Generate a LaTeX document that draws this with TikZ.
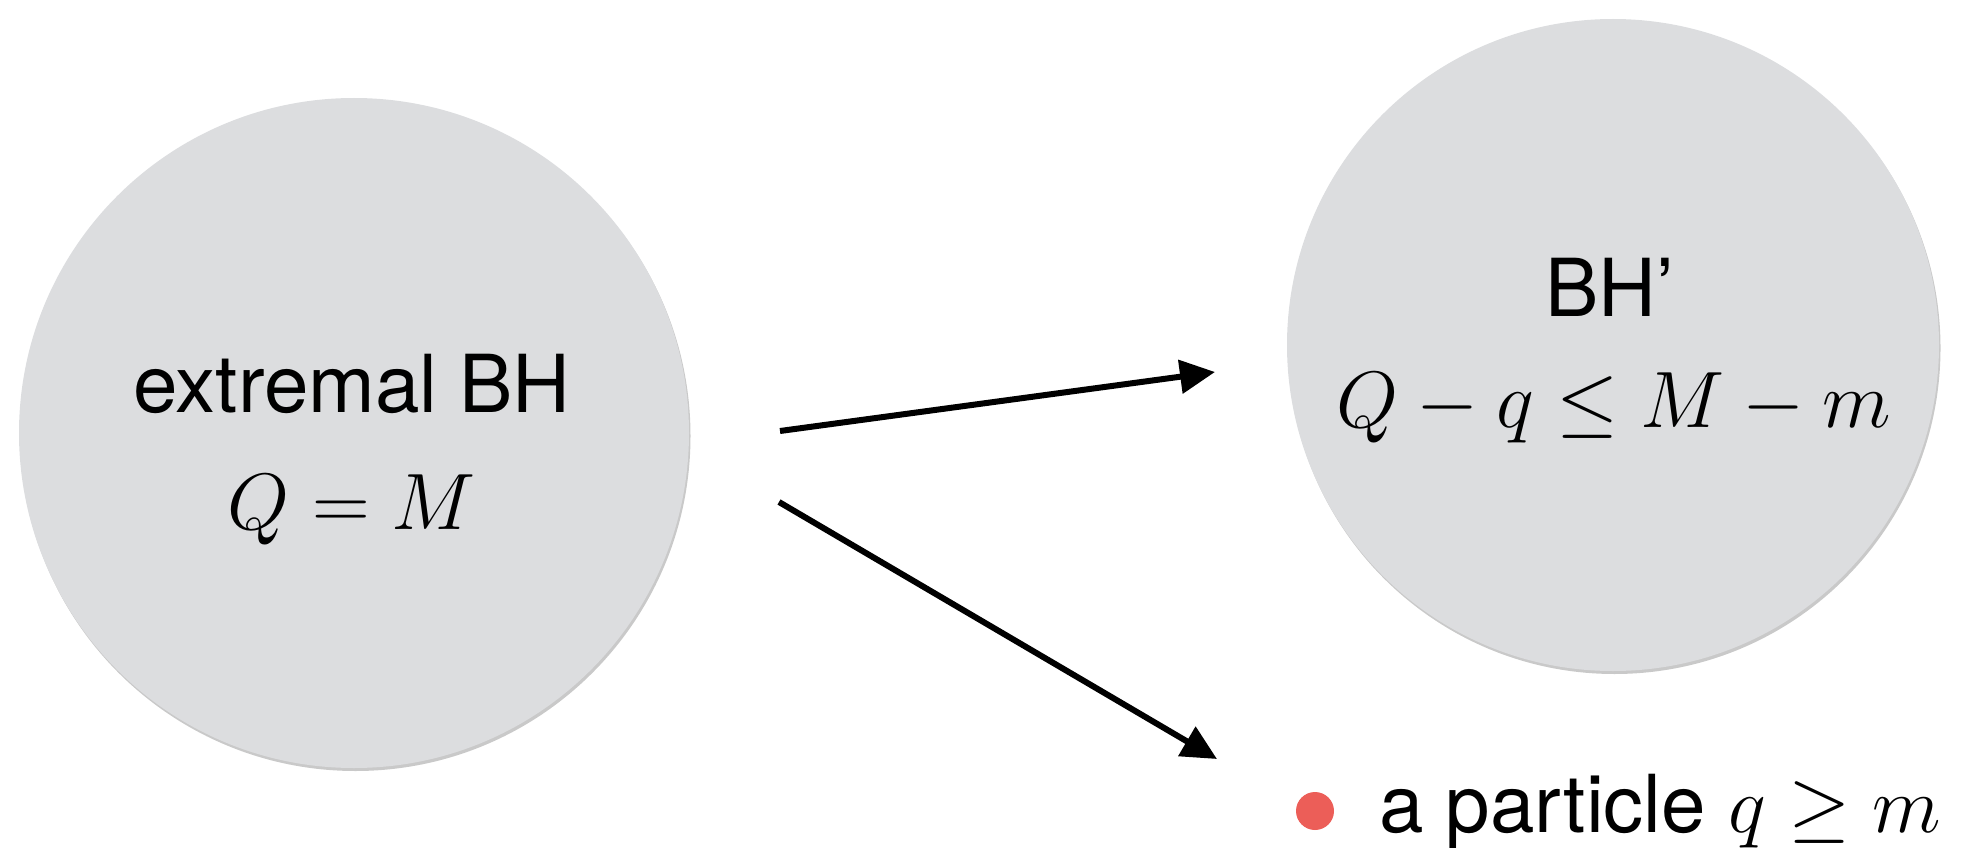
\RequirePackage{fix-cm}
\documentclass[tikz,border=0pt]{standalone}
\usepackage[no-math]{fontspec}
\setmainfont{TeX Gyre Heros}
\usetikzlibrary{arrows.meta,shadows}
\definecolor{bhfill}{RGB}{220,221,223}
\definecolor{dotred}{RGB}{236,94,88}
\tikzset{
  bh/.style={circle, fill=bhfill, draw=none, inner sep=0pt,
    drop shadow={shadow xshift=1.5pt, shadow yshift=-3pt, opacity=0.3, fill=black!70}},
  lbl/.style={anchor=base, inner sep=0pt, font=\fontsize{80}{96}\selectfont},
  arr/.style={line width=6pt, -{Triangle[length=35pt, width=33pt]}},
}
\begin{document}
\begin{tikzpicture}[x=1pt, y=-1pt]
\useasboundingbox (0,0) rectangle (1968,848);
% circles
\node[bh, minimum size=670pt] (L) at (354,433) {};
\node[bh, minimum size=652pt] (R) at (1613,345) {};
% texts
\node[lbl] (Lt) at (352,412) {extremal BH};
\node[lbl] (Lm) at (352,529) {$Q = M$};
\node[lbl] (Rt) at (1610,316) {BH’};
\node[lbl] (Rm) at (1614,427) {$Q - q \leq M - m$};
% particle
\node[circle, fill=dotred, minimum size=38pt, inner sep=0pt] (dot) at (1315,811) {};
\node[lbl, anchor=base west] (pt) at (1379,832) {a particle $q \geq m$};
% arrows
\coordinate (a1s) at (780,431);
\coordinate (a1e) at (1215,372);
\coordinate (a2s) at (779,502);
\coordinate (a2e) at (1217,759);
\draw[arr] (a1s) -- (a1e);
\draw[arr] (a2s) -- (a2e);
\end{tikzpicture}
\end{document}
